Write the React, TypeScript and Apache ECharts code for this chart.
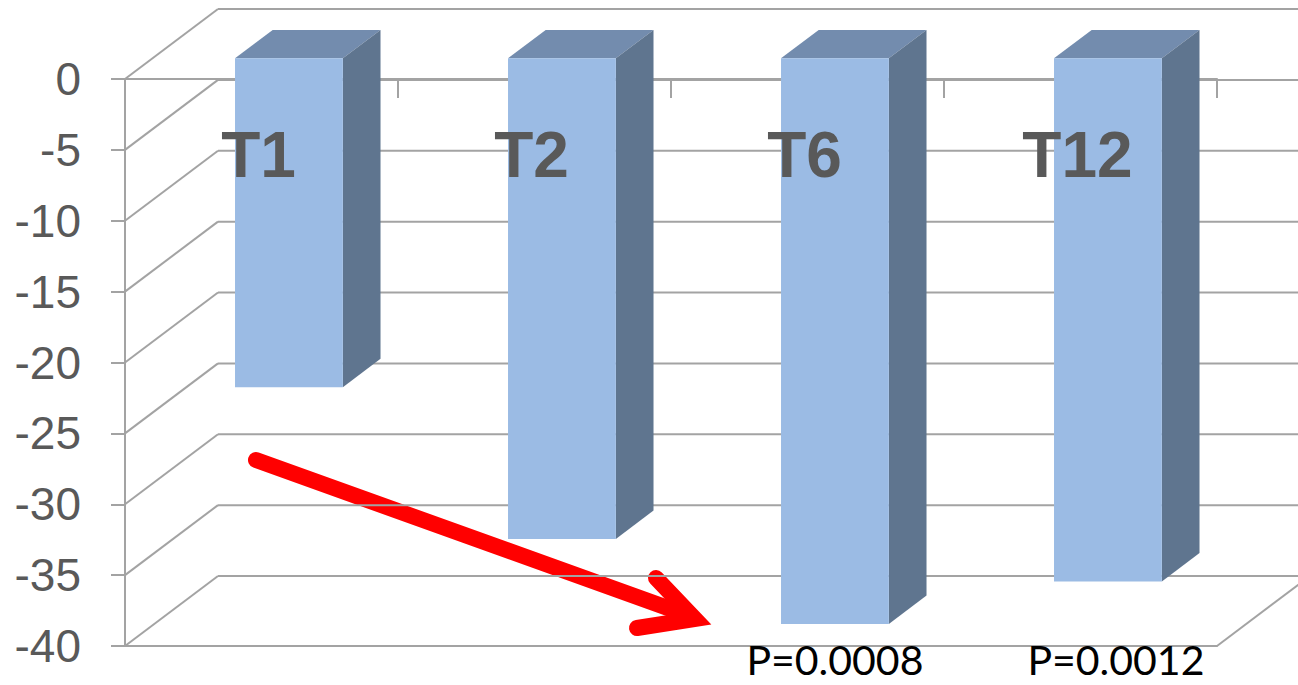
import React, { useEffect, useRef } from "react";
import * as echarts from "echarts";

const categories = ["T1", "T2", "T6", "T12"];
const values = [-23.2, -33.9, -39.9, -36.9];
const pValues = ["", "", "P=0.0008", "P=0.0012"];
const yTicks = [0, -5, -10, -15, -20, -25, -30, -35, -40];

const Y_MIN = -40;
const Y_MAX = 0;
const DX = 93;
const DY = -70;
const F_FRONT = 0.295;
const F_BACK = 0.7;
const BAR_RATIO = 0.395;
const GRID_COLOR = "#a3a3a3";
const FRONT_COLOR = "#9bbbe4";
const SIDE_COLOR = "#5f758f";
const TOP_COLOR = "#738cae";

export default function App() {
  const ref = useRef<HTMLDivElement>(null);

  useEffect(() => {
    const chart = echarts.init(ref.current as HTMLDivElement, null, { renderer: "svg" });
    const lineStyle = { color: GRID_COLOR, width: 2 };

    const wallSeries = {
      type: "custom",
      silent: true,
      z: 1,
      data: yTicks.map((v) => [0, v]),
      encode: { x: 0, y: 1 },
      renderItem: (params: any, api: any) => {
        const cs = params.coordSys;
        const v = api.value(1);
        const y = api.coord([0, v])[1];
        const x0 = cs.x;
        const x1 = cs.x + cs.width;
        const st = { stroke: GRID_COLOR, lineWidth: 2, fill: "none" };
        const children: any[] = [
          { type: "line", shape: { x1: x0, y1: y, x2: x0 + DX, y2: y + DY }, style: st },
          { type: "line", shape: { x1: x0 + DX, y1: y + DY, x2: x1 + DX, y2: y + DY }, style: st },
        ];
        if (v === Y_MIN) {
          children.push({ type: "line", shape: { x1: x1, y1: y, x2: x1 + DX, y2: y + DY }, style: st });
        }
        return { type: "group", children };
      },
    };

    const barSeries = {
      type: "custom",
      silent: true,
      z: 3,
      data: values.map((v, i) => [i, v]),
      encode: { x: 0, y: 1 },
      renderItem: (params: any, api: any) => {
        const idx = api.value(0);
        const val = api.value(1);
        const p0 = api.coord([idx, 0]);
        const p1 = api.coord([idx, val]);
        const pf = api.coord([idx, Y_MIN]);
        const bw = api.size([1, 0])[0] * BAR_RATIO;
        const xl = p0[0] - bw / 2;
        const xr = p0[0] + bw / 2;
        const fx = DX * F_FRONT, fy = DY * F_FRONT;
        const bx = DX * F_BACK, by = DY * F_BACK;
        const children: any[] = [
          {
            type: "polygon",
            shape: { points: [[xl + fx, p0[1] + fy], [xr + fx, p0[1] + fy], [xr + bx, p0[1] + by], [xl + bx, p0[1] + by]] },
            style: { fill: TOP_COLOR },
          },
          {
            type: "polygon",
            shape: { points: [[xr + fx, p0[1] + fy], [xr + bx, p0[1] + by], [xr + bx, p1[1] + by], [xr + fx, p1[1] + fy]] },
            style: { fill: SIDE_COLOR },
          },
          {
            type: "rect",
            shape: { x: xl + fx, y: p0[1] + fy, width: bw, height: p1[1] - p0[1] },
            style: { fill: FRONT_COLOR },
          },
          {
            type: "text",
            style: {
              text: categories[idx],
              x: p0[0] - 3,
              y: p0[1] + 76,
              align: "center",
              verticalAlign: "middle",
              fontSize: 64,
              fontWeight: "bold",
              fontFamily: "Liberation Sans, Arial, sans-serif",
              fill: "#595959",
            },
          },
        ];
        if (pValues[idx]) {
          children.push({
            type: "text",
            style: {
              text: pValues[idx],
              x: xl + fx + bw / 2 + (idx === 3 ? 8 : 0),
              y: pf[1] + 13,
              align: "center",
              verticalAlign: "middle",
              fontSize: 41,
              lineHeight: 41,
              fontFamily: "Lato, sans-serif",
              fill: "#000000",
            },
          });
        }
        return { type: "group", children };
      },
    };

    const option = {
      animation: false,
      backgroundColor: "#ffffff",
      grid: { left: 125, right: 81, top: 79, bottom: 39 },
      xAxis: [
        {
          type: "category",
          data: categories,
          position: "top",
          axisLine: { show: true, lineStyle },
          axisTick: { show: true, inside: true, length: 19, lineStyle },
          axisLabel: { show: false },
          splitLine: { show: false },
        },
        {
          type: "category",
          data: categories,
          position: "bottom",
          axisLine: { show: true, lineStyle },
          axisTick: { show: false },
          axisLabel: { show: false },
          splitLine: { show: false },
        },
      ],
      yAxis: {
        type: "value",
        min: Y_MIN,
        max: Y_MAX,
        interval: 5,
        axisLine: { show: true, lineStyle },
        axisTick: { show: true, length: 14, lineStyle },
        axisLabel: {
          fontSize: 46,
          color: "#595959",
          fontFamily: "Liberation Sans, Arial, sans-serif",
          margin: 44,
        },
        splitLine: { show: false },
      },
      series: [wallSeries, barSeries],
      graphic: [
        {
          type: "group",
          z: 100,
          children: [
            {
              type: "line",
              shape: { x1: 256, y1: 460, x2: 690, y2: 616 },
              style: { stroke: "#ff0000", lineWidth: 16, lineCap: "round" },
            },
            {
              type: "polyline",
              shape: { points: [[656, 578], [695, 619], [637, 628]] },
              style: { stroke: "#ff0000", lineWidth: 16, lineCap: "round", lineJoin: "miter", fill: "none" },
            },
          ],
        },
      ],
    };

    chart.setOption(option as any);
    return () => chart.dispose();
  }, []);

  return (
    <div
      ref={ref}
      style={{ position: "absolute", left: 0, top: 0, width: 1298, height: 685, background: "#fff" }}
    />
  );
}
